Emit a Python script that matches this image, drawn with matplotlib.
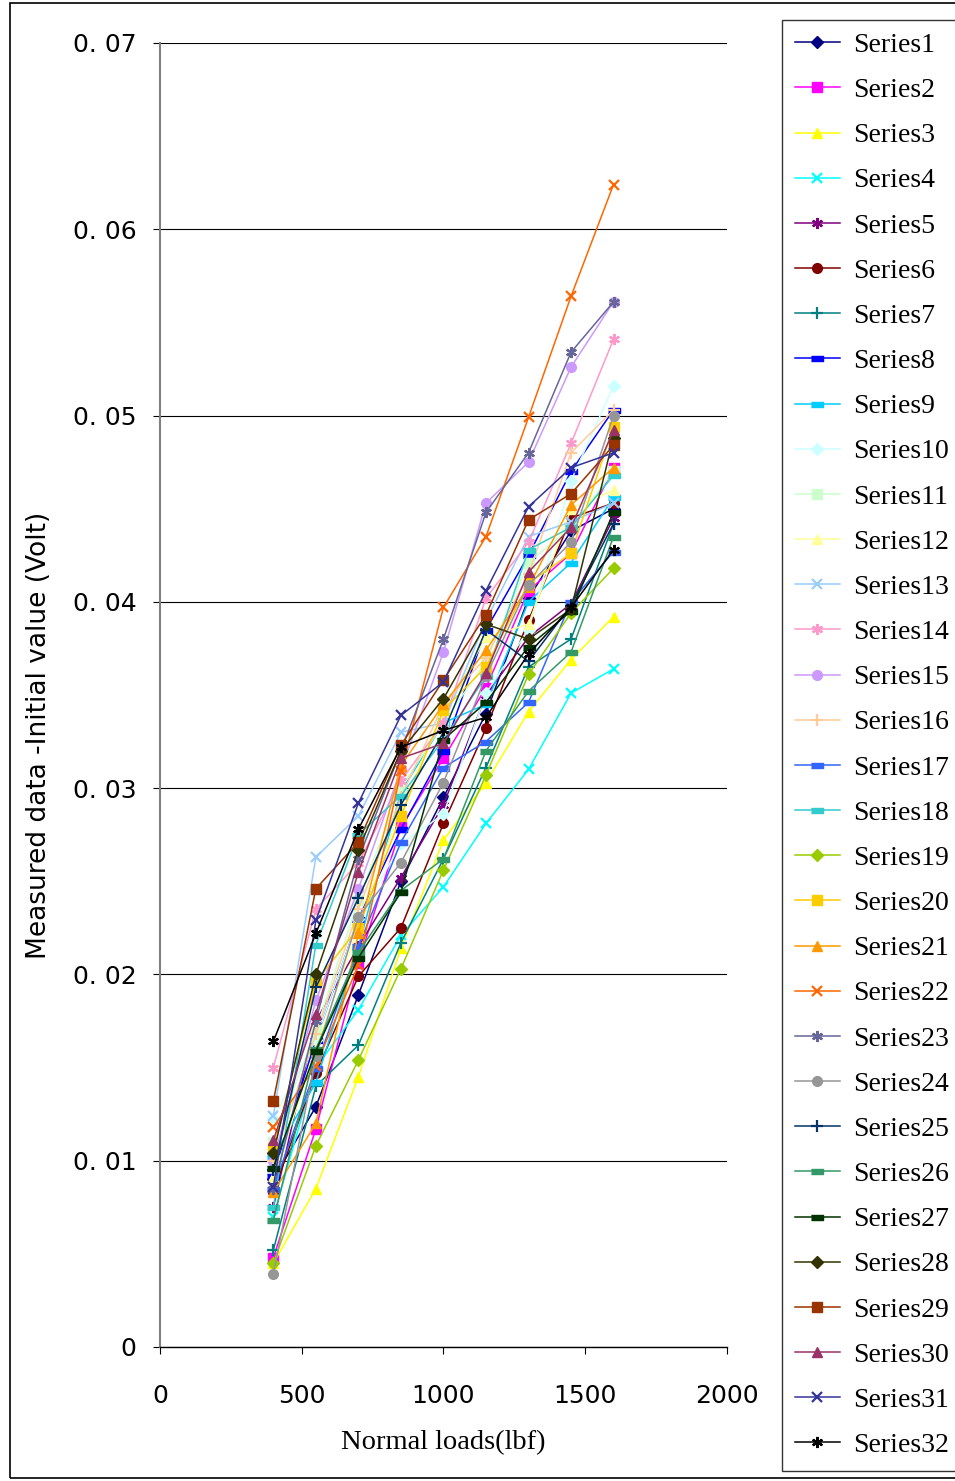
import matplotlib
matplotlib.use("Agg")
import matplotlib.pyplot as plt
from matplotlib.patches import Rectangle

# normal loads (lbf)
loads = [400, 550, 700, 850, 1000, 1150, 1300, 1450, 1600]

s1 = [0.0090, 0.0129, 0.0189, 0.0250, 0.0295, 0.0340, 0.0402, 0.0438, 0.0450]
s2 = [0.0048, 0.0117, 0.0206, 0.0279, 0.0316, 0.0354, 0.0406, 0.0426, 0.0472]
s3 = [0.0045, 0.0085, 0.0145, 0.0214, 0.0272, 0.0303, 0.0341, 0.0369, 0.0392]
s4 = [0.0070, 0.0150, 0.0181, 0.0221, 0.0247, 0.0281, 0.0310, 0.0351, 0.0364]
s5 = [0.0075, 0.0175, 0.0215, 0.0252, 0.0291, 0.0350, 0.0381, 0.0399, 0.0445]
s6 = [0.0083, 0.0147, 0.0199, 0.0225, 0.0281, 0.0332, 0.0390, 0.0445, 0.0453]
s7 = [0.0052, 0.0140, 0.0162, 0.0217, 0.0262, 0.0311, 0.0365, 0.0380, 0.0442]
s8 = [0.0092, 0.0165, 0.0230, 0.0278, 0.0320, 0.0385, 0.0425, 0.0470, 0.0503]
s9 = [0.0102, 0.0142, 0.0215, 0.0298, 0.0335, 0.0345, 0.0400, 0.0421, 0.0456]
s10 = [0.0123, 0.0165, 0.0230, 0.0270, 0.0286, 0.0351, 0.0385, 0.0465, 0.0516]
s11 = [0.0110, 0.0170, 0.0240, 0.0300, 0.0335, 0.0368, 0.0421, 0.0440, 0.0470]
s12 = [0.0091, 0.0160, 0.0225, 0.0290, 0.0340, 0.0381, 0.0388, 0.0450, 0.0460]
s13 = [0.0124, 0.0263, 0.0285, 0.0330, 0.0335, 0.0390, 0.0435, 0.0443, 0.0453]
s14 = [0.0150, 0.0235, 0.0260, 0.0304, 0.0335, 0.0402, 0.0432, 0.0485, 0.0541]
s15 = [0.0100, 0.0186, 0.0246, 0.0310, 0.0373, 0.0453, 0.0475, 0.0526, 0.0561]
s16 = [0.0100, 0.0168, 0.0235, 0.0295, 0.0345, 0.0370, 0.0415, 0.0480, 0.0503]
s17 = [0.0085, 0.0150, 0.0215, 0.0271, 0.0311, 0.0325, 0.0346, 0.0400, 0.0427]
s18 = [0.0075, 0.0216, 0.0275, 0.0296, 0.0326, 0.0360, 0.0428, 0.0440, 0.0468]
s19 = [0.0045, 0.0108, 0.0154, 0.0203, 0.0256, 0.0307, 0.0361, 0.0394, 0.0418]
s20 = [0.0107, 0.0196, 0.0225, 0.0285, 0.0342, 0.0365, 0.0410, 0.0426, 0.0494]
s21 = [0.0083, 0.0120, 0.0222, 0.0312, 0.0345, 0.0374, 0.0408, 0.0452, 0.0472]
s22 = [0.0118, 0.0151, 0.0205, 0.0309, 0.0397, 0.0435, 0.0499, 0.0564, 0.0624]
s23 = [0.0085, 0.0175, 0.0262, 0.0320, 0.0380, 0.0448, 0.0480, 0.0534, 0.0561]
s24 = [0.0039, 0.0156, 0.0231, 0.0260, 0.0303, 0.0360, 0.0409, 0.0432, 0.0500]
s25 = [0.0095, 0.0193, 0.0241, 0.0291, 0.0330, 0.0385, 0.0368, 0.0398, 0.0442]
s26 = [0.0068, 0.0160, 0.0212, 0.0245, 0.0262, 0.0320, 0.0352, 0.0373, 0.0435]
s27 = [0.0096, 0.0159, 0.0209, 0.0244, 0.0326, 0.0346, 0.0376, 0.0395, 0.0448]
s28 = [0.0104, 0.0200, 0.0267, 0.0320, 0.0348, 0.0388, 0.0380, 0.0396, 0.0488]
s29 = [0.0132, 0.0246, 0.0271, 0.0323, 0.0358, 0.0393, 0.0444, 0.0458, 0.0484]
s30 = [0.0111, 0.0179, 0.0255, 0.0316, 0.0324, 0.0362, 0.0416, 0.0440, 0.0492]
s31 = [0.0086, 0.0229, 0.0292, 0.0339, 0.0357, 0.0406, 0.0451, 0.0472, 0.0480]
s32 = [0.0164, 0.0222, 0.0278, 0.0322, 0.0331, 0.0338, 0.0372, 0.0397, 0.0428]

series = [s1, s2, s3, s4, s5, s6, s7, s8, s9, s10, s11, s12, s13, s14, s15, s16,
          s17, s18, s19, s20, s21, s22, s23, s24, s25, s26, s27, s28, s29, s30, s31, s32]

# excel 2003 default series colours
colors = ["#000080", "#FF00FF", "#FFFF00", "#00FFFF", "#800080", "#800000", "#008080", "#0000FF",
          "#00CCFF", "#CCFFFF", "#CCFFCC", "#FFFF99", "#99CCFF", "#FF99CC", "#CC99FF", "#FFCC99",
          "#3366FF", "#33CCCC", "#99CC00", "#FFCC00", "#FF9900", "#FF6600", "#666699", "#969696",
          "#003366", "#339966", "#003300", "#333300", "#993300", "#993366", "#333399", "#000000"]

dash = [(-1, -0.45), (1, -0.45), (1, 0.45), (-1, 0.45)]
star = (6, 2, 0)
markers = ["D", "s", "^", "x", star, "o", "+", dash,
           dash, "D", "s", "^", "x", star, "o", "+",
           dash, dash, "D", "s", "^", "x", star, "o",
           "+", dash, dash, "D", "s", "^", "x", star]
sizes = {"D": 6, "s": 7, "^": 7, "x": 7, "o": 7, "+": 8}

fig = plt.figure(figsize=(9.55, 14.81), dpi=100)
ax = fig.add_axes([0.1675, 0.0905, 0.5937, 0.8805])

for i, vals in enumerate(series):
    m = markers[i]
    ms = sizes.get(m, 7) if isinstance(m, str) else 8
    mew = 1.6 if m in ("x", "+") or m == star else 1.0
    ax.plot(loads, vals, color=colors[i], marker=m, markersize=ms,
            markeredgewidth=mew, markeredgecolor=colors[i], linewidth=1.1,
            label=f"Series{i + 1}")

ax.set_xlim(0, 2000)
ax.set_ylim(0, 0.07)
ax.set_xticks([0, 500, 1000, 1500, 2000])
ax.set_yticks([0, 0.01, 0.02, 0.03, 0.04, 0.05, 0.06, 0.07])
ax.set_yticklabels(["0", "0. 01", "0. 02", "0. 03", "0. 04", "0. 05", "0. 06", "0. 07"])
ax.yaxis.grid(True, color="black", linewidth=0.8)
ax.set_axisbelow(True)
for sp in ["top", "right"]:
    ax.spines[sp].set_visible(False)
ax.spines["left"].set_color("#808080")
ax.spines["left"].set_linewidth(1.5)
ax.spines["bottom"].set_linewidth(1.0)
ax.tick_params(axis="both", labelsize=18, length=5, width=0.8, direction="out")
ax.tick_params(axis="y", pad=12)
ax.tick_params(axis="x", pad=22)

ax.set_xlabel("Normal loads(lbf)", fontsize=20.5, family="Liberation Serif")
ax.xaxis.set_label_coords(0.5, -0.064)
ax.set_ylabel("Measured data -Initial value (Volt)", fontsize=19,
              family=["Liberation Sans Narrow", "DejaVu Sans"])
ax.yaxis.set_label_coords(-0.19, 0.469)

leg = fig.legend(loc="upper left", bbox_to_anchor=(782 / 955, 1 - 20 / 1481),
                 prop={"family": "Liberation Serif", "size": 20},
                 frameon=True, fancybox=False, edgecolor="black",
                 handlelength=1.65, handletextpad=0.45, labelspacing=0.71,
                 borderpad=0.45, borderaxespad=0)
leg.get_frame().set_linewidth(1.0)

# outer chart border
fig.patches.append(Rectangle((10 / 955, 3 / 1481), 1.0, 1 - 6 / 1481,
                             transform=fig.transFigure, fill=False,
                             edgecolor="black", linewidth=1.2))

fig.savefig("out.png", dpi=100)
